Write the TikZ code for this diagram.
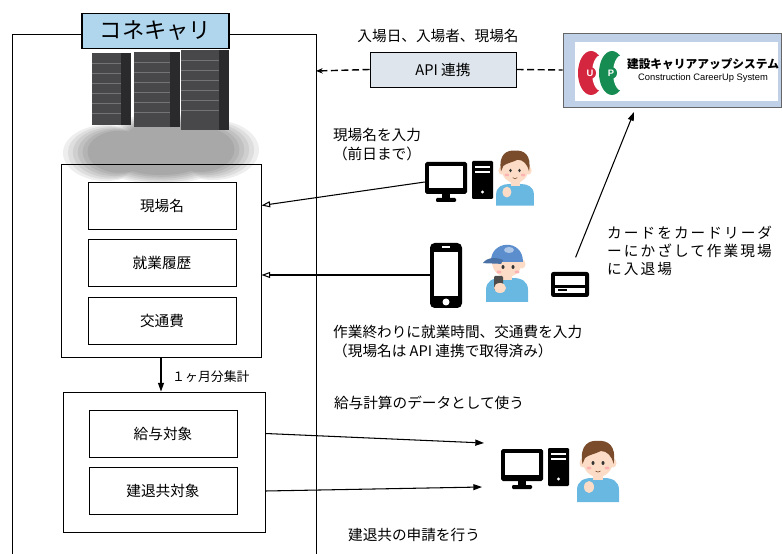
\documentclass[tikz,border=0pt]{standalone}
\usepackage{fontspec}
\setmainfont{Noto Sans CJK JP}
\newfontfamily\latinsans{Liberation Sans}
\usetikzlibrary{arrows.meta,positioning}

\definecolor{titleblue}{RGB}{176,214,238}
\definecolor{apigray}{RGB}{222,229,236}
\definecolor{ccusblue}{RGB}{192,209,231}
\definecolor{ccusred}{RGB}{212,38,62}
\definecolor{ccusgreen}{RGB}{22,140,82}
\definecolor{rack}{RGB}{72,72,75}
\definecolor{rackside}{RGB}{42,42,45}
\definecolor{skin}{RGB}{252,220,198}
\definecolor{hair}{RGB}{122,76,44}
\definecolor{shirt}{RGB}{104,184,226}
\definecolor{capblue}{RGB}{92,142,206}

\tikzset{
  field/.style={draw, line width=0.8pt, fill=white, minimum width=44.4mm,
    minimum height=14.1mm, font={\fontsize{12.5}{15}\selectfont}},
  panel/.style={draw, line width=0.8pt, inner sep=0pt},
  note/.style={inner sep=0pt, font={\fontsize{12.5}{16.2}\selectfont}},
  icon/.style={inner sep=0pt},
  logoletter/.style={circle, inner sep=0pt, minimum size=3.6mm, text=white,
    font={\latinsans\bfseries\fontsize{8}{9}\selectfont}},
  feedarrow/.style={-{Triangle[open,length=2.6mm,width=1.8mm]}, line width=0.9pt},
  sendarrow/.style={-{Triangle[length=2.6mm,width=1.8mm]}, line width=0.9pt},
  link/.style={line width=1.2pt, dash pattern=on 6pt off 3pt},
  % desktop computer
  pc/.pic={
    \fill[black, rounded corners=1.5pt] (-34,-20) rectangle (8,12);
    \fill[white] (-30,-16) rectangle (4,6);
    \fill[black] (-17,12) rectangle (-9,17);
    \fill[black, rounded corners=1pt] (-23,16) rectangle (-3,20);
    \fill[black, rounded corners=1pt] (13,-21) rectangle (34,17);
    \fill[white] (16,-16) rectangle (31,-14);
    \fill[white] (16,-11) rectangle (31,-9);
    \fill[white] (23.5,10) circle (1.6);
  },
  % smartphone
  phone/.pic={
    \fill[black, rounded corners=4pt] (-16,-32) rectangle (16,33);
    \fill[white] (-12,-23) rectangle (12,21);
    \fill[white] (0,27) circle (3.5);
    \fill[white] (-4,-28.5) rectangle (4,-27);
  },
  % card reader
  cardreader/.pic={
    \fill[black, rounded corners=2pt] (-19,-12) rectangle (19,13);
    \fill[white] (-15,-8) rectangle (15,1);
    \fill[white] (-15,4) rectangle (15,9);
    \fill[black] (-12,5.5) rectangle (-3,7.5);
  },
  % office staff
  person/.pic={
    \fill[shirt] (-21,34) -- (-21,22) .. controls (-21,13) and (-14,10) .. (-6,10)
      -- (6,10) .. controls (14,10) and (21,13) .. (21,22) -- (21,34) -- cycle;
    \fill[skin] (-5,2) rectangle (5,12);
    \fill[skin] (-15,-5) ellipse (3.5 and 4.5);
    \fill[skin] (15,-5) ellipse (3.5 and 4.5);
    \fill[skin] (0,-7) ellipse (15 and 16);
    \fill[hair] (-15.5,-4) .. controls (-19,-24) and (-8,-28) .. (0,-27)
      .. controls (9,-28) and (19,-23) .. (15.5,-4)
      .. controls (14,-12) and (9,-17) .. (3,-17)
      .. controls (-3,-14) and (-10,-13) .. (-13,-10) -- cycle;
    \fill[black!80] (-5,-5) ellipse (1.5 and 2);
    \fill[black!80] (5,-5) ellipse (1.5 and 2);
    \fill[red!30] (-9,0) ellipse (2.5 and 1.5);
    \fill[red!30] (9,0) ellipse (2.5 and 1.5);
    \draw[hair, line width=0.5pt] (-2.5,3) .. controls (-1,4.5) and (1,4.5) .. (2.5,3);
    \fill[skin] (-9,19) ellipse (5 and 6);
  },
  % site worker with cap and phone
  worker/.pic={
    \fill[shirt] (-21,34) -- (-21,22) .. controls (-21,13) and (-14,10) .. (-6,10)
      -- (6,10) .. controls (14,10) and (21,13) .. (21,22) -- (21,34) -- cycle;
    \fill[skin] (-5,2) rectangle (5,12);
    \fill[skin] (15,-4) ellipse (3.5 and 4.5);
    \fill[skin] (0,-6) ellipse (15 and 15);
    \fill[capblue] (-16,-6) .. controls (-17,-28) and (16,-30) .. (16,-6) -- cycle;
    \fill[capblue!80!black] (-24,-5) .. controls (-20,-11) and (-10,-11) .. (-4,-8)
      -- (-6,-4) .. controls (-12,-5) and (-18,-4) .. (-24,-5) -- cycle;
    \fill[white, opacity=0.5] (2,-18) ellipse (5 and 3);
    \fill[black!80] (-4,-1) ellipse (1.5 and 2);
    \fill[black!80] (6,-1) ellipse (1.5 and 2);
    \fill[red!30] (-8,4) ellipse (2.5 and 1.5);
    \fill[red!30] (10,4) ellipse (2.5 and 1.5);
    \fill[black!70, rounded corners=1pt] (-13,8) rectangle (-4,22);
    \fill[skin] (-7,20) ellipse (6 and 5);
  }
}

\begin{document}
\begin{tikzpicture}[x=0.3mm, y=-0.3mm]
  \path[use as bounding box, fill=white] (0,0) rectangle (782,554);

  % system frame, open at the bottom
  \draw[line width=0.7pt] (12,554) -- (12,34) -- (316,34) -- (316,554);
  \coordinate (frameR) at (316,71);

  % soft cloud under the servers
  \foreach \s in {1.00,0.95,...,0.70} {
    \fill[black, opacity=0.065, shift={(161,148)}, scale=\s]
      (-55,5) ellipse (43 and 28) (0,-8) ellipse (50 and 28)
      (52,2) ellipse (46 and 30) (0,14) ellipse (60 and 22);
  }

  % server racks
  \foreach \x/\w/\t/\b in {92/29/53/125, 134/36/52/127, 181/38/50/130} {
    \fill[rack] (\x,\t) rectangle ({\x+\w},\b);
    \fill[rackside] ({\x+\w},\t) rectangle ({\x+\w+10},\b);
    \foreach \k in {1,...,6}
      \draw[black!55, line width=0.3pt] (\x,{\t+10*\k}) -- ({\x+\w},{\t+10*\k});
  }

  \node[draw, line width=1pt, fill=titleblue, minimum width=44.1mm, minimum height=10.5mm,
    font={\fontsize{19}{22}\selectfont}] (title) at (155.5,31) {コネキャリ};

  % daily input and monthly totals
  \node[panel, minimum width=60mm, minimum height=57.9mm] (input) at (161,260.5) {};
  \foreach \name/\y/\txt in {site/205.5/現場名, history/263/就業履歴, fare/321/交通費} {
    \node[field] (\name) at (162,\y) {\txt};
  }
  \node[panel, minimum width=60.6mm, minimum height=42mm] (monthly) at (164,462) {};
  \foreach \name/\y/\txt in {pay/433.5/給与対象, kentai/491/建退共対象} {
    \node[field] (\name) at (163,\y) {\txt};
  }
  \draw[sendarrow] (input.south) -- (input.south |- monthly.north);
  \node[note, anchor=west, font={\fontsize{11}{13}\selectfont}] (monthsum) at (172,377) {１ヶ月分集計};

  % API link to CCUS
  \node[note] (entry) at (438,36) {入場日、入場者、現場名};
  \node[draw, line width=0.8pt, fill=apigray, minimum width=43.8mm, minimum height=10.5mm,
    font={\fontsize{12.5}{15}\selectfont}] (api) at (443,69.5) {API 連携};
  \node[draw=black!60, line width=0.8pt, fill=ccusblue, minimum width=65.4mm,
    minimum height=22.2mm] (ccus) at (672,70) {};
  \fill[white] (575,42) rectangle (778,101);
  % logo: two crescents
  \fill[ccusred] (591,73) ellipse (13 and 22);
  \fill[white] (601,73) ellipse (9 and 18);
  \fill[ccusgreen] (612,73) ellipse (13 and 22);
  \fill[white] (622,73) ellipse (9 and 18);
  \node[logoletter, fill=ccusred] (ulogo) at (590,73) {U};
  \node[logoletter, fill=ccusgreen] (plogo) at (611,73) {P};
  \node[inner sep=0pt, font={\bfseries\fontsize{10}{11}\selectfont}] (ccusjp) at (703,64)
    {建設キャリアアップシステム};
  \node[inner sep=0pt, below=1.2mm of ccusjp, font={\latinsans\fontsize{8}{9}\selectfont}]
    (ccusen) {Construction CareerUp System};
  \draw[link, -{Stealth[length=2mm,width=1.6mm]}] (api.west) -- (frameR);
  \draw[link] (api.east) -- (ccus.west);

  % office staff enters the site name
  \node[note, align=center] (siteinput) at (377,145) {現場名を入力\\（前日まで）};
  \node[icon, minimum width=20.4mm, minimum height=12.6mm] (pc1) at (459,182) {};
  \pic at (pc1) {pc};
  \coordinate (clerk) at (515,175);
  \pic[scale=0.9] at (clerk) {person};
  \draw[feedarrow] (pc1.west) -- (input.east |- site);

  % site worker
  \node[icon, minimum width=9.6mm, minimum height=19.5mm] (phone) at (446,275) {};
  \pic at (phone) {phone};
  \coordinate (crew) at (507,268);
  \pic at (crew) {worker};
  \node[icon, minimum width=11.4mm, minimum height=7.5mm] (card) at (570,284) {};
  \pic at (card) {cardreader};
  \coordinate (tap) at (634,112);
  \draw[feedarrow] (phone.west) -- (input.east |- phone.west);
  \draw[sendarrow, shorten <=4.5mm] (card.north) -- (tap);
  \node[note, align=left, anchor=north west,
    font={\fontsize{12.5}{15.3}\selectfont\addfontfeatures{LetterSpace=14}}] (cardtext)
    at (607,226) {カードをカードリーダ\\ーにかざして作業現場\\に入退場};
  \node[note, align=left, anchor=west] (dayend) at (333,342)
    {作業終わりに就業時間、交通費を入力\\（現場名は API 連携で取得済み）};

  % payroll and kentai output
  \node[note] (salary) at (429,403) {給与計算のデータとして使う};
  \node[icon, minimum width=20.4mm, minimum height=12.6mm] (pc2) at (535,469) {};
  \pic at (pc2) {pc};
  \coordinate (accountant) at (598,468);
  \pic at (accountant) {person};
  \coordinate (paydata) at (484,443);
  \coordinate (kentaidata) at (482,487);
  \draw[sendarrow] (monthly.east |- pay) -- (paydata);
  \draw[sendarrow] (monthly.east |- kentai) -- (kentaidata);
  \node[note] (apply) at (414,535) {建退共の申請を行う};
\end{tikzpicture}
\end{document}
